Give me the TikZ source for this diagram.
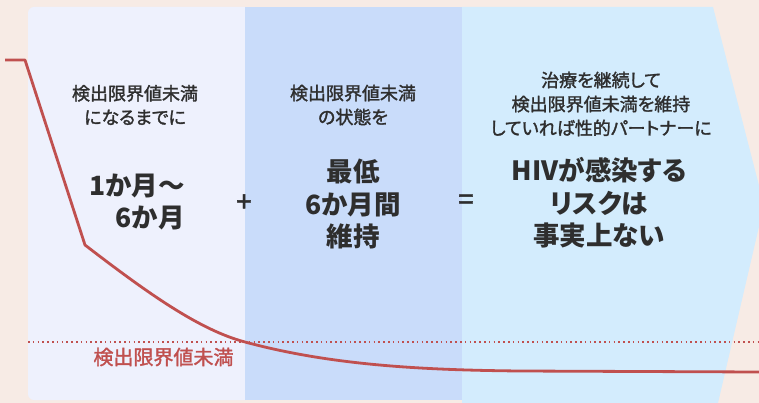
\documentclass[tikz,border=0pt]{standalone}
\usepackage{fontspec}
\setmainfont{Noto Sans CJK JP}[RawFeature=+palt]
\newfontfamily\medfont{Noto Sans CJK JP}[RawFeature=+palt,
  BoldFont={Noto Sans CJK JP}, BoldFeatures={FakeBold=1.6}]
\usetikzlibrary{positioning}

\definecolor{peach}{HTML}{F7EBE5}
\definecolor{paneA}{HTML}{EEF1FD}
\definecolor{paneB}{HTML}{C9DCFA}
\definecolor{paneC}{HTML}{D3ECFD}
\definecolor{viral}{HTML}{C0504F}
\definecolor{ink}{HTML}{2E2E2E}

\tikzset{
  smalltxt/.style={text=ink, align=center, font=\medfont\bfseries\fontsize{18}{24}\selectfont},
  bigtxt/.style={text=ink, align=center, font=\bfseries\fontsize{26.5}{32.5}\selectfont},
  optxt/.style={text=ink, font=\medfont\bfseries\fontsize{28}{28}\selectfont},
  limit/.style={text=viral, font=\medfont\bfseries\fontsize{20}{20}\selectfont}
}

\begin{document}
\begin{tikzpicture}[x=1pt,y=-1pt,node distance=12pt]
    \useasboundingbox (0,0) rectangle (759,403);
    \fill[peach] (0,0) rectangle (759,403);

    % panels
    \fill[paneA, rounded corners=6pt] (245,7) -| (28,400) -- (245,400);
    \fill[paneB] (245,7) rectangle (462,400);
    \fill[paneC] (462,7) -- (713,7) -- (764,205) -- (718,403) -- (462,403) -- cycle;

    % viral load
    \draw[viral, line width=2.5pt, dash pattern=on 1.6pt off 3.2pt] (28,342) -- (759,342);
    \draw[viral, line width=2.8pt, line join=round]
        (5,60) -- (25,60) -- (85,245)
        .. controls (150,295) and (200,330) .. (245,342)
        .. controls (330,365) and (420,370) .. (520,371) -- (759,372);
    \node[limit, anchor=east] (lim) at (237,357) {検出限界値未満};

    % texts
    \node[smalltxt] (s1) at (135,105) {検出限界値未満\\になるまでに};
    \node[bigtxt, align=right] (b1) at (137,202) {1か月〜\\6か月};

    \node[optxt] (plus) at (244,203) {+};

    \node[smalltxt] (s2) at (353,105) {検出限界値未満\\の状態を};
    \node[bigtxt] (b2) at (353,204) {最低\\6か月間\\維持};

    \node[optxt] (eq) at (466,202) {=};

    \node[smalltxt] (s3) at (601,104) {治療を継続して\\検出限界値未満を維持\\していれば性的パートナーに};
    \node[bigtxt] (b3) at (599,203) {HIVが感染する\\リスクは\\事実上ない};
\end{tikzpicture}
\end{document}
